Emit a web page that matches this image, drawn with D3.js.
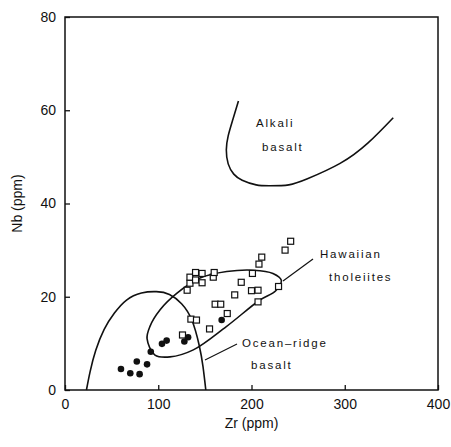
<!DOCTYPE html>
<html>
<head>
<meta charset="utf-8">
<script src="https://cdn.jsdelivr.net/npm/d3@7"></script>
<style>
  body { margin: 0; background: #fff; }
  text { font-family: "Liberation Sans", Arial, sans-serif; fill: #111; }
</style>
</head>
<body>
<svg class="chart" width="451" height="447"></svg>
<script>
// Zr (ppm) vs Nb (ppm) values
const circleZr = [60, 70, 77, 80, 88, 92, 104, 109, 128, 132, 168];
const circleNb = [4.5, 3.6, 6.1, 3.4, 5.5, 8.2, 9.9, 10.6, 10.4, 11.3, 15];

const squareZr = [126, 135, 141, 155, 161, 167, 174, 182, 189, 200, 207, 201, 207, 208, 211, 229, 236, 242,
                  131, 134, 134, 140, 140, 147, 147, 159, 160];
const squareNb = [11.8, 15.2, 15, 13.1, 18.4, 18.4, 16.4, 20.4, 23.1, 21.3, 21.4, 25, 18.9, 27, 28.5, 22.2, 30, 31.9,
                  21.4, 22.9, 24.2, 25.2, 23.6, 25, 23, 24.2, 25.2];

// field boundaries
const oceanRidge = [[23, 0], [27, 4], [33, 8.5], [42, 13], [53, 16.5], [66, 19.3], [82, 20.8], [98, 21.1],
                    [112, 20.5], [125, 18.5], [136, 15], [144, 9.5], [148, 5], [151, 0]];
const hawaiian = [[88, 11], [91, 13.6], [102, 17.2], [119.8, 20.7], [144.8, 24], [173.4, 25.4], [202, 25.7], [223, 25],
                  [232, 23.5], [226, 21.3], [209, 19.3], [173, 13.6], [137.6, 8.6], [112.6, 7.1], [96.5, 7.5]];
const alkali = [[186, 62], [180, 58], [175, 54.5], [173, 51.5], [175, 48.5], [181, 46.3], [190, 45], [205, 44],
                [220, 43.8], [240, 44], [260, 45.3], [295, 48.6], [325, 53], [352, 58.4]];

const xTicks = [0, 100, 200, 300, 400];
const yTicks = [0, 20, 40, 60, 80];

const svg = d3.select(".chart");
const margin = { top: 17, right: 13, bottom: 57, left: 65 };
const width = +svg.attr("width");
const height = +svg.attr("height");

const x = d3.scaleLinear().domain([0, 400]).range([margin.left, width - margin.right]);
const y = d3.scaleLinear().domain([0, 80]).range([height - margin.bottom, margin.top]);

// frame
svg.append("rect")
  .attr("x", x(0)).attr("y", y(80))
  .attr("width", x(400) - x(0)).attr("height", y(0) - y(80))
  .attr("fill", "none").attr("stroke", "#111").attr("stroke-width", 1.5);

// axes with inward ticks
const xAxis = svg.append("g")
  .attr("transform", `translate(0,${y(0)})`)
  .call(d3.axisBottom(x).tickValues(xTicks).tickSizeInner(-5).tickSizeOuter(0).tickPadding(9));
const yAxis = svg.append("g")
  .attr("transform", `translate(${x(0)},0)`)
  .call(d3.axisLeft(y).tickValues(yTicks).tickSizeInner(-5).tickSizeOuter(0).tickPadding(9));
[xAxis, yAxis].forEach(g => {
  g.select(".domain").remove();
  g.selectAll("line").attr("stroke", "#111").attr("stroke-width", 1.3);
  g.selectAll("text").style("font-size", "14px").style("font-family", "Liberation Sans, Arial, sans-serif").attr("fill", "#111");
});

svg.append("text")
  .attr("x", (x(0) + x(400)) / 2).attr("y", 428)
  .attr("text-anchor", "middle").style("font-size", "14px")
  .text("Zr (ppm)");
svg.append("text")
  .attr("transform", `translate(22,${(y(0) + y(80)) / 2}) rotate(-90)`)
  .attr("text-anchor", "middle").style("font-size", "14px")
  .text("Nb (ppm)");

// curves
const line = d3.line().x(d => x(d[0])).y(d => y(d[1])).curve(d3.curveNatural);
svg.append("path")
  .attr("d", line(oceanRidge))
  .attr("fill", "none").attr("stroke", "#111").attr("stroke-width", 1.6);
svg.append("path")
  .attr("d", d3.line().x(d => x(d[0])).y(d => y(d[1])).curve(d3.curveCatmullRomClosed)(hawaiian))
  .attr("fill", "none").attr("stroke", "#111").attr("stroke-width", 1.6);
svg.append("path")
  .attr("d", line(alkali))
  .attr("fill", "none").attr("stroke", "#111").attr("stroke-width", 1.6);

// points
const squares = squareZr.map((v, i) => [v, squareNb[i]]);
const circles = circleZr.map((v, i) => [v, circleNb[i]]);
svg.selectAll(".sq").data(squares).enter().append("rect")
  .attr("class", "sq")
  .attr("x", d => x(d[0]) - 3).attr("y", d => y(d[1]) - 3)
  .attr("width", 6).attr("height", 6)
  .attr("fill", "#fff").attr("stroke", "#111").attr("stroke-width", 1.2);
svg.selectAll(".dot").data(circles).enter().append("circle")
  .attr("class", "dot")
  .attr("cx", d => x(d[0])).attr("cy", d => y(d[1]))
  .attr("r", 3.3).attr("fill", "#111");

// labels with leader lines
const label = (tx, ty, s) => svg.append("text")
  .attr("x", tx).attr("y", ty)
  .style("font-size", "11.5px").style("letter-spacing", "1.8px")
  .text(s);
label(256, 127, "Alkali");
label(262, 151, "basalt");
label(320, 258, "Hawaiian");
label(329, 281, "tholeiites");
label(242, 347, "Ocean\u2013ridge");
label(251, 369, "basalt");

svg.append("line")
  .attr("x1", 313).attr("y1", 259).attr("x2", 283).attr("y2", 281)
  .attr("stroke", "#111").attr("stroke-width", 1.2);
svg.append("line")
  .attr("x1", 237).attr("y1", 344).attr("x2", 205).attr("y2", 360)
  .attr("stroke", "#111").attr("stroke-width", 1.2);
</script>
</body>
</html>
